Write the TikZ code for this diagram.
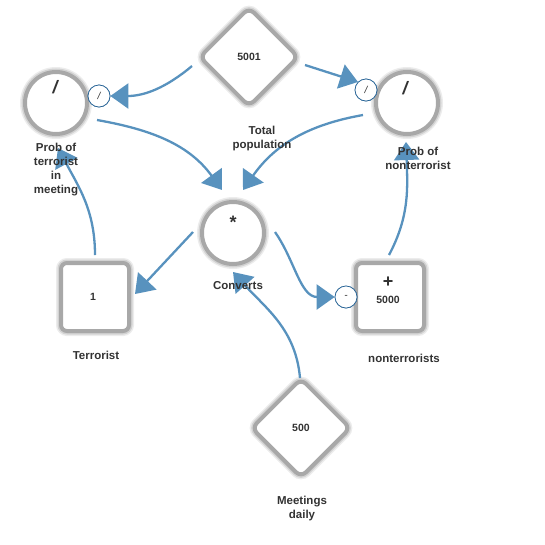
\documentclass[tikz,border=0pt]{standalone}
\usepackage{fontspec}
\setmainfont{Liberation Sans}
\usetikzlibrary{shapes.geometric,arrows.meta}
\definecolor{flowblue}{RGB}{88,146,190}
\definecolor{ringblue}{RGB}{40,100,150}
\definecolor{ink}{RGB}{50,50,50}
\tikzset{
  haze/.style={preaction={draw=gray!15,line width=10pt},
               preaction={draw=gray!35,line width=7pt},
               draw=gray!68,line width=4pt,fill=white},
  stock/.style={haze,rectangle,rounded corners=6pt,minimum size=68pt,inner sep=0pt},
  conv/.style={haze,circle,minimum size=62pt,inner sep=0pt},
  param/.style={haze,diamond,aspect=1,minimum size=100pt,rounded corners=7pt,inner sep=0pt},
  badge/.style={circle,draw=ringblue,line width=0.7pt,fill=white,minimum size=22pt,inner sep=0pt,
                font=\fontsize{10}{10}\selectfont\itshape,text=ink},
  caption/.style={align=center,font=\bfseries\fontsize{11.5}{14}\selectfont,text=ink},
  sym/.style={font=\bfseries\fontsize{18}{18}\selectfont,text=ink},
  val/.style={font=\bfseries\fontsize{10.5}{12}\selectfont,text=ink},
  flow/.style={draw=flowblue,line width=2.3pt,
               -{Triangle[length=18pt,width=25pt]}},
}
\begin{document}
\begin{tikzpicture}[x=1pt,y=-1pt]
\useasboundingbox (0,0) rectangle (545,544);

% parameters
\node[param] (pop) at (249,57) {};
\node[val] (popv) at (249,57) {5001};
\node[param] (meet) at (301,428) {};
\node[val] (meetv) at (301,428) {500};

% converters
\node[conv] (pt) at (56,103) {};
\node[sym] (ptv) at (55,87) {\itshape /};
\node[conv] (pn) at (407,103) {};
\node[sym] (pnv) at (405,88) {\itshape /};
\node[conv] (cv) at (233,233) {};
\node[sym] (cvv) at (233,222) {*};

% stocks
\node[stock] (ter) at (95,297) {};
\node[val] (terv) at (93,297) {1};
\node[stock] (non) at (390,297) {};
\node[sym] (nonp) at (388,282) {+};
\node[val] (nonv) at (388,300) {5000};

% badges on the connectors
\node[badge] (b1) at (99,96) {/};
\node[badge] (b2) at (366,90) {/};
\node[badge] (b3) at (346,297) {-};

% connectors
\draw[flow] ([shift={(-57,9)}]pop.center) to[out=-140,in=0] (b1.east);
\draw[flow] ([shift={(56,8)}]pop.center) -- (b2.north west);
\draw[flow] ([shift={(41,17)}]pt.center) to[out=-10,in=126] ([shift={(-11,-43)}]cv.center);
\draw[flow] ([shift={(-44,12)}]pn.center) to[out=190,in=55] ([shift={(10,-43)}]cv.center);
\draw[flow] ([shift={(-40,-1)}]cv.center) -- ([shift={(40,-3)}]ter.center);
\draw[flow] ([shift={(42,-1)}]cv.center) to[out=-55,in=180] (b3.west);
\draw[flow] ([shift={(0,-42)}]ter.center) to[out=90,in=-62] ([shift={(2,45)}]pt.center);
\draw[flow] ([shift={(-1,-42)}]non.center) to[out=62,in=-88] ([shift={(-1,39)}]pn.center);
\draw[flow] ([shift={(-1,-50)}]meet.center) to[out=95,in=-48] ([shift={(0,39)}]cv.center);

% keep the badges above the connector lines
\node[badge] at (b1) {/};
\node[badge] at (b2) {/};
\node[badge] at (b3) {-};

% captions
\node[caption] (popl) at (262,139) {Total\\population};
\node[caption] (meetl) at (302,509) {Meetings\\daily};
\node[caption] (ptl) at (56,170) {Prob of\\terrorist\\in\\meeting};
\node[caption] (pnl) at (418,158) {Prob of\\nonterrorist};
\node[caption] (cvl) at (238,286) {Converts};
\node[caption] (terl) at (96,355) {Terrorist};
\node[caption] (nonl) at (404,358) {nonterrorists};
\end{tikzpicture}
\end{document}
